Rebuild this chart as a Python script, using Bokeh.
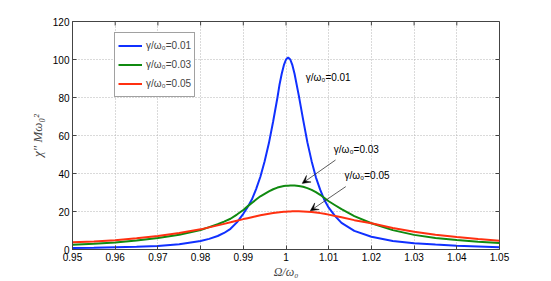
from bokeh.plotting import figure
from bokeh.models import Range1d, FixedTicker, Label, Arrow, VeeHead
from bokeh.embed import file_html
from bokeh.resources import INLINE

# ---------------- data ----------------
omega_ratio = [0.95, 0.955, 0.96, 0.965, 0.97, 0.975, 0.98, 0.982, 0.984, 0.9855,
               0.987, 0.9885, 0.99, 0.991, 0.992, 0.993, 0.994, 0.995, 0.996, 0.997,
               0.998, 0.9985, 0.999, 0.9995, 1.0, 1.0005, 1.001, 1.0015, 1.002, 1.003,
               1.004, 1.005, 1.006, 1.007, 1.008, 1.009, 1.01, 1.0115, 1.013, 1.016,
               1.02, 1.025, 1.03, 1.035, 1.04, 1.045, 1.05]

chi_g001 = [0.8, 0.95, 1.2, 1.45, 1.85, 2.75, 4.5, 5.6, 7.1, 8.7,
            10.9, 14.3, 18.8, 22.3, 26.3, 31.8, 38.3, 46.5, 56.0, 67.5,
            80.0, 87.0, 92.5, 97.0, 100.0, 101.0, 100.0, 97.0, 92.5, 81.0,
            68.5, 56.5, 46.5, 38.0, 31.5, 26.0, 22.0, 17.6, 14.0, 9.8,
            6.7, 4.5, 3.3, 2.6, 2.0, 1.6, 1.2]

chi_g003 = [2.5, 3.0, 3.7, 4.7, 6.0, 7.8, 10.3, 11.8, 13.3, 14.7,
            16.2, 18.4, 20.8, 22.7, 24.5, 26.3, 28.0, 29.3, 30.6, 31.7,
            32.6, 32.9, 33.2, 33.4, 33.5, 33.6, 33.65, 33.7, 33.65, 33.4,
            33.0, 32.3, 31.4, 30.2, 28.8, 27.1, 25.4, 23.3, 21.2, 17.6,
            13.8, 10.2, 7.7, 6.1, 5.0, 4.1, 3.4]

chi_g005 = [3.8, 4.2, 4.9, 5.9, 7.1, 8.7, 10.6, 11.65, 12.7, 13.5,
            14.3, 15.15, 16.0, 16.5, 17.0, 17.5, 18.0, 18.45, 18.85, 19.2,
            19.5, 19.65, 19.75, 19.85, 19.93, 20.0, 20.05, 20.08, 20.1, 20.1,
            20.05, 19.9, 19.7, 19.45, 19.15, 18.8, 18.35, 17.65, 16.95, 15.45,
            13.8, 11.3, 9.3, 7.8, 6.6, 5.5, 4.6]

series_labels = ["γ/ω₀=0.01", "γ/ω₀=0.03", "γ/ω₀=0.05"]
series_colors = ["#1030ff", "#108a10", "#ff3010"]

x_ticks = [0.95, 0.96, 0.97, 0.98, 0.99, 1.0, 1.01, 1.02, 1.03, 1.04, 1.05]
x_tick_labels = ["0.95", "0.96", "0.97", "0.98", "0.99", "1",
                 "1.01", "1.02", "1.03", "1.04", "1.05"]
y_ticks = [0, 20, 40, 60, 80, 100, 120]

annot_text = ["γ/ω₀=0.01", "γ/ω₀=0.03", "γ/ω₀=0.05"]
annot_x = [1.0046, 1.0112, 1.0137]
annot_y = [90.5, 52.4, 38.7]
arrow_x_start = [1.0116, 1.0140]
arrow_y_start = [47.1, 33.1]
arrow_x_end = [1.0038, 1.0057]
arrow_y_end = [34.8, 20.4]

x_label = "Ω/ω₀"
y_label = "χ″ Mω₀²"

# ---------------- figure ----------------
SANS = "Liberation Sans"
SERIF = "Liberation Serif"
AXC = "#444444"
X0, X1, Y0, Y1 = 0.95, 1.05, 0, 120
TICK_PX = 4
FRAME_W, FRAME_H = 427, 228

p = figure(width=551, height=281, output_backend="svg", toolbar_location=None,
           x_range=Range1d(X0, X1), y_range=Range1d(Y0, Y1),
           min_border_left=72, min_border_right=52, min_border_top=21,
           min_border_bottom=32)
p.background_fill_color = "white"
p.border_fill_color = "white"
p.outline_line_color = AXC
p.outline_line_width = 1


def style_axis(ax, ticks):
    ax.ticker = FixedTicker(ticks=ticks)
    ax.axis_line_color = AXC
    ax.major_tick_line_color = AXC
    ax.major_tick_in = TICK_PX
    ax.major_tick_out = 0
    ax.minor_tick_line_color = None
    ax.major_label_text_font = SANS
    ax.major_label_text_color = "black"
    ax.major_label_text_font_size = "10px"
    ax.major_label_standoff = 3


style_axis(p.xaxis[0], x_ticks)
p.xaxis[0].major_label_overrides = dict(zip(x_ticks, x_tick_labels))
p.xaxis[0].axis_label = x_label
p.xaxis[0].axis_label_text_font = SERIF
p.xaxis[0].axis_label_text_font_style = "italic"
p.xaxis[0].axis_label_text_font_size = "12px"
p.xaxis[0].axis_label_standoff = 1

style_axis(p.yaxis[0], y_ticks)
p.yaxis[0].axis_label = y_label
p.yaxis[0].axis_label_text_font = SERIF
p.yaxis[0].axis_label_text_font_style = "italic"
p.yaxis[0].axis_label_text_font_size = "13px"
p.yaxis[0].axis_label_standoff = 5

# inward tick marks on the top and right sides of the box
dy = TICK_PX * (Y1 - Y0) / FRAME_H
dx = TICK_PX * (X1 - X0) / FRAME_W
p.segment(x0=x_ticks, y0=[Y1] * len(x_ticks), x1=x_ticks, y1=[Y1 - dy] * len(x_ticks),
          line_color=AXC, line_width=1)
p.segment(x0=[X1] * len(y_ticks), y0=y_ticks, x1=[X1 - dx] * len(y_ticks), y1=y_ticks,
          line_color=AXC, line_width=1)

p.xgrid.ticker = FixedTicker(ticks=x_ticks)
p.ygrid.ticker = FixedTicker(ticks=y_ticks)
p.grid.grid_line_color = "#b4b4b4"
p.grid.grid_line_dash = "1 2"
p.grid.grid_line_width = 1

for ys, lab, col in zip([chi_g001, chi_g003, chi_g005], series_labels, series_colors):
    p.line(omega_ratio, ys, line_color=col, line_width=2, legend_label=lab)

leg = p.legend[0]
leg.location = (42, 152)
leg.label_text_font = SANS
leg.label_text_font_size = "10px"
leg.glyph_width = 24
leg.glyph_height = 19
leg.label_height = 19
leg.label_standoff = 4
leg.padding = 3
leg.spacing = 0
leg.margin = 0
leg.border_line_color = AXC
leg.border_line_width = 1
leg.background_fill_alpha = 1.0

for t, ax_, ay_ in zip(annot_text, annot_x, annot_y):
    p.add_layout(Label(x=ax_, y=ay_, text=t, text_font=SANS, text_font_size="10px",
                       text_baseline="middle", text_align="left", text_color="black"))

for xs, ys, xe, ye in zip(arrow_x_start, arrow_y_start, arrow_x_end, arrow_y_end):
    p.add_layout(Arrow(x_start=xs, y_start=ys, x_end=xe, y_end=ye,
                       line_color="#333333", line_width=0.8,
                       end=VeeHead(size=8, fill_color="black", line_color="black",
                                   line_width=0.5)))

open("out.html", "w").write(file_html(p, INLINE))
